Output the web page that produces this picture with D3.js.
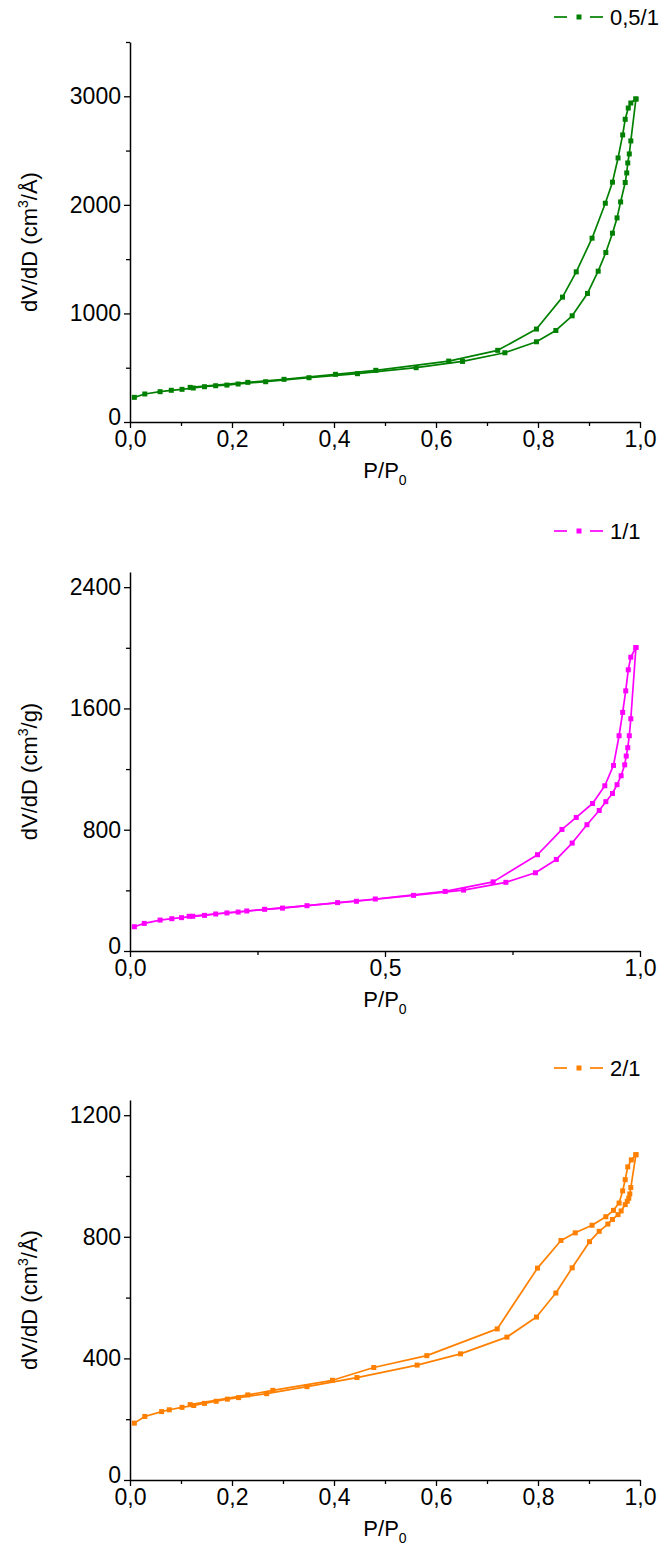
<!DOCTYPE html>
<html>
<head>
<meta charset="utf-8">
<script src="https://cdn.jsdelivr.net/npm/d3@7"></script>
<style>
  html, body { margin: 0; padding: 0; background: #fff; }
  svg { display: block; font-family: "Liberation Sans", Arial, sans-serif; }
</style>
</head>
<body>
<svg id="chart" width="662" height="1559"></svg>
<script>
// ---------- DATA ----------
const legendLabels = ["0,5/1", "1/1", "2/1"];
const yTitles = ["dV/dD (cm|3|/Å)", "dV/dD (cm|3|/g)", "dV/dD (cm|3|/Å)"];

// Panel 1 (0,5/1)
const p1AdsP = [0.0085,0.029,0.059,0.081,0.102,0.124,0.146,0.168,0.19,0.212,0.266,0.351,0.446,0.561,0.652,0.735,0.797,0.835,0.867,0.897,0.918,0.933,0.946,0.955,0.962,0.971,0.974,0.976,0.979,0.982,0.992];
const p1AdsV = [227,258,279,292,301,313,325,334,340,350,371,408,445,500,558,638,739,843,978,1184,1389,1561,1739,1880,2027,2206,2294,2386,2469,2589,2975];
const p1DesP = [0.992,0.982,0.977,0.971,0.966,0.957,0.946,0.932,0.906,0.875,0.848,0.797,0.721,0.625,0.482,0.403,0.302,0.231,0.118];
const p1DesV = [2975,2938,2892,2788,2644,2432,2209,2015,1693,1383,1150,856,660,561,476,439,393,365,319];

// Panel 2 (1/1)
const p2AdsP = [0.0085,0.028,0.059,0.082,0.101,0.123,0.146,0.168,0.19,0.212,0.264,0.347,0.444,0.556,0.654,0.737,0.795,0.836,0.867,0.896,0.92,0.933,0.946,0.955,0.963,0.97,0.973,0.976,0.979,0.982,0.992];
const p2AdsV = [160,182,204,213,220,229,235,244,251,257,275,299,328,367,402,453,516,604,712,833,927,985,1039,1097,1156,1228,1286,1341,1420,1532,2002];
const p2DesP = [0.992,0.982,0.977,0.972,0.966,0.959,0.948,0.931,0.907,0.875,0.847,0.799,0.712,0.618,0.481,0.407,0.299,0.229,0.116];
const p2DesV = [2002,1938,1855,1716,1574,1420,1224,1090,973,881,802,635,456,393,343,319,283,264,229];

// Panel 3 (2/1)
const p3AdsP = [0.0085,0.029,0.062,0.077,0.102,0.125,0.146,0.169,0.191,0.213,0.268,0.347,0.445,0.563,0.648,0.739,0.797,0.835,0.867,0.901,0.92,0.937,0.946,0.957,0.963,0.971,0.975,0.978,0.98,0.982,0.992];
const p3AdsV = [187,209,225,231,239,245,252,259,266,271,284,307,337,378,415,470,536,615,698,784,818,842,857,873,885,906,917,927,941,962,1070];
const p3DesP = [0.992,0.983,0.976,0.971,0.966,0.959,0.948,0.933,0.906,0.873,0.845,0.799,0.72,0.582,0.478,0.397,0.28,0.231,0.118];
const p3DesV = [1070,1053,1030,988,951,911,887,866,838,813,788,697,497,409,370,328,295,280,248];

// Axis ticks
const p1YTicks = [0,1000,2000,3000];
const p2YTicks = [0,800,1600,2400];
const p3YTicks = [0,400,800,1200];
const p1XTicks = [0,0.2,0.4,0.6,0.8,1.0];
const p2XTicks = [0,0.5,1.0];
const p3XTicks = [0,0.2,0.4,0.6,0.8,1.0];

// ---------- LAYOUT ----------
const colors = ["#008000", "#ff00ff", "#ff8000"];
const panels = [
  {ads:[p1AdsP,p1AdsV], des:[p1DesP,p1DesV], yMax:3500, yTicks:p1YTicks, yMinorStep:500, xTicks:p1XTicks, xMinorStep:0.1, top:42, bottom:422, legendY:17},
  {ads:[p2AdsP,p2AdsV], des:[p2DesP,p2DesV], yMax:2500, yTicks:p2YTicks, yMinorStep:400, xTicks:p2XTicks, xMinorStep:0.25, top:572, bottom:951, legendY:531},
  {ads:[p3AdsP,p3AdsV], des:[p3DesP,p3DesV], yMax:1250, yTicks:p3YTicks, yMinorStep:200, xTicks:p3XTicks, xMinorStep:0.1, top:1100, bottom:1480, legendY:1068}
];
const left = 130, right = 640;
const fs = 22, tickFs = 23;
const svg = d3.select("#chart");
const fmtX = d => d3.format(".1f")(d).replace(".", ",");

panels.forEach((p, i) => {
  const color = colors[i];
  const x = d3.scaleLinear().domain([0, 1]).range([left, right]);
  const y = d3.scaleLinear().domain([0, p.yMax]).range([p.bottom, p.top]);
  const g = svg.append("g");

  // minor ticks
  const yMinor = d3.range(0, p.yMax + 1e-9, p.yMinorStep).filter(v => !p.yTicks.includes(v));
  const xMinor = d3.range(0, 1 + 1e-9, p.xMinorStep).map(v => +v.toFixed(3)).filter(v => !p.xTicks.some(t => Math.abs(t - v) < 1e-6));

  g.append("g").attr("transform", `translate(${left},0)`)
    .call(d3.axisLeft(y).tickValues(yMinor).tickSize(4).tickFormat(""))
    .call(a => a.select(".domain").remove())
    .call(a => a.selectAll("line").attr("stroke", "#000").attr("stroke-width", 1.3));
  g.append("g").attr("transform", `translate(0,${p.bottom})`)
    .call(d3.axisBottom(x).tickValues(xMinor).tickSize(4).tickFormat(""))
    .call(a => a.select(".domain").remove())
    .call(a => a.selectAll("line").attr("stroke", "#000").attr("stroke-width", 1.3));

  // major axes
  const yAx = g.append("g").attr("transform", `translate(${left},0)`)
    .call(d3.axisLeft(y).tickValues(p.yTicks).tickSize(6).tickSizeOuter(0).tickPadding(3).tickFormat(d3.format("d")));
  const xAx = g.append("g").attr("transform", `translate(0,${p.bottom})`)
    .call(d3.axisBottom(x).tickValues(p.xTicks).tickSize(6).tickSizeOuter(0).tickPadding(3).tickFormat(fmtX));
  [yAx, xAx].forEach(a => {
    a.select(".domain").attr("stroke", "#000").attr("stroke-width", 1.5);
    a.selectAll("line").attr("stroke", "#000").attr("stroke-width", 1.3);
    a.selectAll("text").attr("font-size", tickFs).attr("fill", "#000")
      .attr("font-family", "'Liberation Sans', Arial, sans-serif");
  });
  // nudge the y "0" label up a touch so it clears the "0,0" label below it
  yAx.selectAll(".tick").filter(d => d === 0).select("text").attr("dy", "0.1em");

  // series
  const line = d3.line().x(d => x(d[0])).y(d => y(d[1]));
  [p.ads, p.des].forEach(s => {
    const pts = s[0].map((v, k) => [v, s[1][k]]);
    g.append("path").datum(pts).attr("d", line)
      .attr("fill", "none").attr("stroke", color).attr("stroke-width", 1.7).attr("stroke-linejoin", "round");
    g.selectAll(null).data(pts).enter().append("rect")
      .attr("x", d => x(d[0]) - 2.5).attr("y", d => y(d[1]) - 2.5)
      .attr("width", 5).attr("height", 5).attr("fill", color);
  });

  // x title
  const xt = g.append("text").attr("x", (left + right) / 2).attr("y", p.bottom + 56)
    .attr("text-anchor", "middle").attr("font-size", fs).attr("fill", "#000");
  xt.append("tspan").text("P/P");
  xt.append("tspan").attr("font-size", 14).attr("dy", 7).text("0");

  // y title
  const yc = (p.top + p.bottom) / 2 + 10;
  const parts = yTitles[i].split("|");
  const yt = g.append("text").attr("transform", `translate(37,${yc}) rotate(-90)`)
    .attr("text-anchor", "middle").attr("font-size", fs).attr("fill", "#000");
  yt.append("tspan").text(parts[0]);
  yt.append("tspan").attr("font-size", 14).attr("dy", -9).text(parts[1]);
  yt.append("tspan").attr("dy", 9).text(parts[2]);

  // legend
  const ly = p.legendY;
  const lg = g.append("g");
  lg.append("line").attr("x1", 554).attr("x2", 567).attr("y1", ly).attr("y2", ly).attr("stroke", color).attr("stroke-width", 1.7);
  lg.append("line").attr("x1", 590).attr("x2", 603).attr("y1", ly).attr("y2", ly).attr("stroke", color).attr("stroke-width", 1.7);
  lg.append("rect").attr("x", 576.5).attr("y", ly - 2.5).attr("width", 5).attr("height", 5).attr("fill", color);
  lg.append("text").attr("x", 610).attr("y", ly + 8).attr("font-size", fs).attr("fill", "#000").text(legendLabels[i]);
});
</script>
</body>
</html>
